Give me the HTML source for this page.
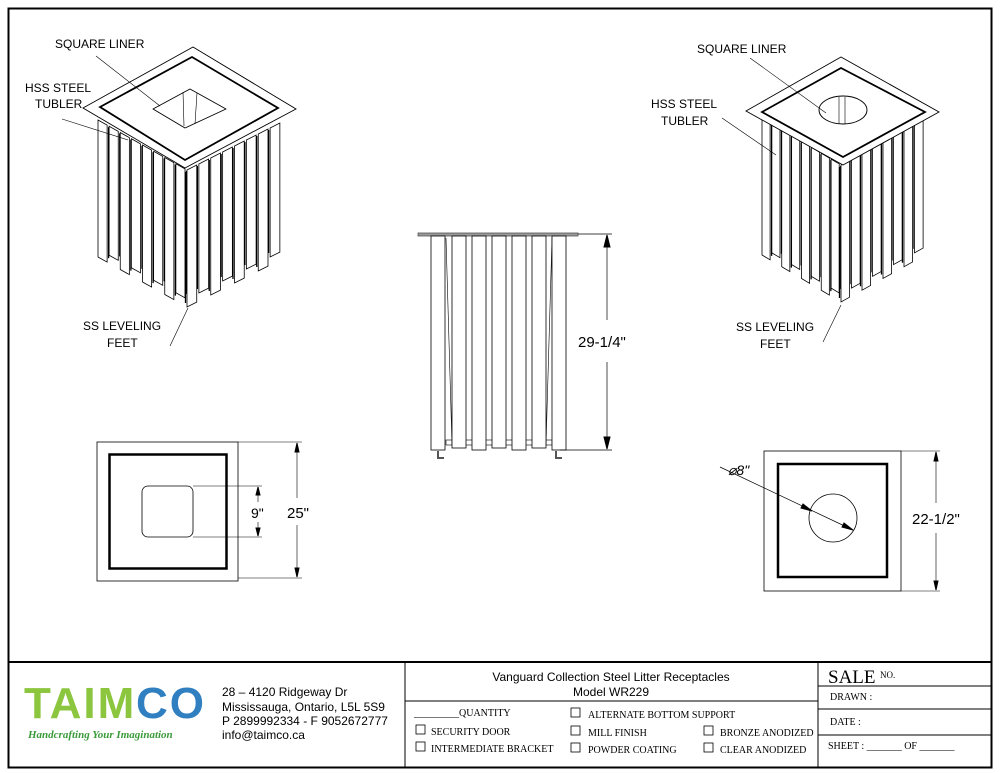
<!DOCTYPE html>
<html><head><meta charset="utf-8"><style>
body{margin:0;background:#fff}
svg{display:block}
text{font-family:"Liberation Sans",sans-serif;fill:#000}
.s{font-family:"Liberation Serif",serif;font-size:10px}
</style></head><body>
<svg id="g" width="1000" height="773" viewBox="0 0 1000 773" xmlns="http://www.w3.org/2000/svg" stroke="#000" fill="none">
<rect x="8.5" y="8.5" width="983" height="759" stroke-width="2"/>
<line x1="8" y1="662" x2="992" y2="662" stroke-width="2"/>
<line x1="405" y1="662" x2="405" y2="768" stroke-width="1"/>
<line x1="818" y1="662" x2="818" y2="768" stroke-width="1"/>
<line x1="405" y1="701" x2="818" y2="701"/>
<line x1="818" y1="686" x2="992" y2="686"/>
<line x1="818" y1="709" x2="992" y2="709"/>
<line x1="818" y1="735" x2="992" y2="735"/>
<g id="iso"></g>
<rect x="418" y="233" width="160" height="3" fill="#999" stroke="#555" stroke-width="0.8"/>
<g id="front"></g>
<line x1="578" y1="234" x2="612" y2="234" stroke-width="0.7"/>
<line x1="560" y1="450" x2="612" y2="450" stroke-width="0.7"/>
<line x1="607" y1="236" x2="607" y2="320" stroke-width="0.7"/>
<line x1="607" y1="362" x2="607" y2="448" stroke-width="0.7"/>
<path d="M607 235 L604 247 L610 247Z M607 449 L604 437 L610 437Z" fill="#000"/>
<text x="578" y="347" font-size="15" stroke="none">29-1/4"</text>
<rect x="97" y="442" width="141" height="139" stroke-width="0.8"/>
<rect x="109.5" y="454.5" width="117" height="114" stroke-width="2.5"/>
<rect x="142" y="486" width="51" height="51" rx="6" stroke-width="0.8"/>
<line x1="193" y1="486" x2="262" y2="486" stroke-width="0.6"/>
<line x1="193" y1="537" x2="262" y2="537" stroke-width="0.6"/>
<line x1="258" y1="487" x2="258" y2="502" stroke-width="0.6"/><line x1="258" y1="522" x2="258" y2="536" stroke-width="0.6"/>
<path d="M258 487 L256 495 L260 495Z M258 536 L256 528 L260 528Z" fill="#000"/>
<text x="251" y="518" font-size="14" stroke="none">9"</text>
<line x1="238" y1="442" x2="302" y2="442" stroke-width="0.6"/>
<line x1="238" y1="578" x2="302" y2="578" stroke-width="0.6"/>
<line x1="297" y1="443" x2="297" y2="498" stroke-width="0.6"/><line x1="297" y1="525" x2="297" y2="577" stroke-width="0.6"/>
<path d="M297 443 L295 452 L299 452Z M297 577 L295 568 L299 568Z" fill="#000"/>
<text x="287" y="518" font-size="15" stroke="none">25"</text>
<rect x="764" y="451" width="137" height="140" stroke-width="0.8"/>
<rect x="778" y="464" width="109" height="113" stroke-width="2.5"/>
<circle cx="833" cy="518" r="24" stroke-width="0.8"/>
<line x1="720" y1="467" x2="853" y2="530" stroke-width="0.7"/>
<path d="M812 511 L803 504 L801 508Z M853 530 L844 523 L842 527Z" fill="#000"/>
<text x="728" y="475" font-size="14" font-style="italic" stroke="none">⌀8"</text>
<line x1="901" y1="451" x2="940" y2="451" stroke-width="0.6"/>
<line x1="901" y1="591" x2="940" y2="591" stroke-width="0.6"/>
<line x1="936" y1="452" x2="936" y2="503" stroke-width="0.6"/><line x1="936" y1="533" x2="936" y2="590" stroke-width="0.6"/>
<path d="M936 452 L934 461 L938 461Z M936 590 L934 581 L938 581Z" fill="#000"/>
<text x="912" y="524" font-size="15" stroke="none">22-1/2"</text>
<g font-size="12" stroke="none">
<text x="55" y="48">SQUARE LINER</text>
<text x="25" y="92">HSS STEEL</text>
<text x="35" y="108">TUBLER</text>
<text x="83" y="330">SS LEVELING</text>
<text x="107" y="347">FEET</text>
<text x="697" y="53">SQUARE LINER</text>
<text x="651" y="108">HSS STEEL</text>
<text x="661" y="125">TUBLER</text>
<text x="736" y="331">SS LEVELING</text>
<text x="760" y="348">FEET</text>
</g>
<g stroke-width="0.6">
<line x1="96" y1="56" x2="160" y2="106"/>
<line x1="62" y1="119" x2="128" y2="140"/>
<line x1="170" y1="346" x2="188" y2="308"/>
<line x1="750" y1="58" x2="826" y2="113"/>
<line x1="722" y1="118" x2="776" y2="155"/>
<line x1="823" y1="342" x2="841" y2="305"/>
</g>
<text x="24" y="718" font-size="44" font-weight="bold" stroke="none" style="fill:#8cc63f;letter-spacing:2px">TAIM</text>
<text x="136" y="718" font-size="44" font-weight="bold" stroke="none" style="fill:#2f7fc1;letter-spacing:2px">CO</text>
<text x="28" y="738" font-size="11" font-style="italic" font-weight="bold" stroke="none" style="fill:#3a9a3a;font-family:'Liberation Serif',serif">Handcrafting Your Imagination</text>
<g font-size="12" stroke="none">
<text x="222" y="696">28 – 4120 Ridgeway Dr</text>
<text x="222" y="711">Mississauga, Ontario, L5L 5S9</text>
<text x="222" y="725">P 2899992334 - F 9052672777</text>
<text x="222" y="739">info@taimco.ca</text>
<text x="611" y="681" text-anchor="middle">Vanguard Collection Steel Litter Receptacles</text>
<text x="611" y="696" text-anchor="middle">Model WR229</text>
</g>
<g class="s" stroke="none">
<text x="414" y="716" class="s">_________QUANTITY</text>
<text x="431" y="735" class="s">SECURITY DOOR</text>
<text x="431" y="752" class="s">INTERMEDIATE BRACKET</text>
<text x="588" y="718" class="s">ALTERNATE BOTTOM SUPPORT</text>
<text x="588" y="736" class="s">MILL FINISH</text>
<text x="588" y="753" class="s">POWDER COATING</text>
<text x="720" y="736" class="s">BRONZE ANODIZED</text>
<text x="720" y="753" class="s">CLEAR ANODIZED</text>
<text x="828" y="683" style="font-family:'Liberation Serif',serif;font-size:19px">SALE</text>
<text x="880" y="678" class="s" style="font-size:9px">NO.</text>
<text x="830" y="700" class="s">DRAWN :</text>
<text x="830" y="725" class="s">DATE :</text>
<text x="828" y="749" class="s">SHEET :   _______  OF  _______</text>
</g>
<g stroke-width="0.8">
<rect x="416" y="725" width="9" height="9"/><rect x="416" y="742" width="9" height="9"/>
<rect x="571" y="708" width="9" height="9"/><rect x="571" y="726" width="9" height="9"/><rect x="571" y="743" width="9" height="9"/>
<rect x="704" y="726" width="9" height="9"/><rect x="704" y="743" width="9" height="9"/>
</g>
</svg>
<script>
const NS="http://www.w3.org/2000/svg";
function el(p,t,a){const e=document.createElementNS(NS,t);for(const k in a)e.setAttribute(k,a[k]);p.appendChild(e);return e;}
const iso=document.getElementById('iso');
function box(o){
 const {L,F,R,h,lid,inner,hole}=o;
 [[L,F],[F,R]].forEach(([a,b],fi)=>{
  const n=8;
  const idx=[...Array(n).keys()];
  if(fi==1) idx.reverse();
  idx.forEach(i=>{
   const t0=i/n,t1=(i+0.82)/n;
   const p0=[a[0]+(b[0]-a[0])*t0,a[1]+(b[1]-a[1])*t0];
   const p1=[a[0]+(b[0]-a[0])*t1,a[1]+(b[1]-a[1])*t1];
   const hh=h-(i%2?8:0);
   el(iso,'polygon',{points:`${p0[0]},${p0[1]} ${p1[0]},${p1[1]} ${p1[0]},${p1[1]+hh} ${p0[0]},${p0[1]+hh}`,fill:'#fff','stroke-width':0.8});
   const x=fi==0?p1[0]+1.5:p0[0]-1.5, y=fi==0?p1[1]:p0[1];
   el(iso,'line',{x1:x,y1:y+2,x2:x,y2:y+hh-4,'stroke-width':1.3});
  });
 });
 el(iso,'polygon',{points:lid.map(p=>p.join(',')).join(' '),fill:'#fff','stroke-width':0.9});
 el(iso,'polygon',{points:inner.map(p=>p.join(',')).join(' '),fill:'#fff','stroke-width':1.8});
 hole();
}
box({L:[98,120],F:[187,170],R:[282,122],h:137,
 lid:[[83,108],[193,47],[296,109],[185,168]],
 inner:[[100,107],[192,57],[278,108],[185,160]],
 hole:()=>{el(iso,'polygon',{points:'153,109 190,89 226,109 185,128',fill:'#fff','stroke-width':0.9,'stroke-linejoin':'round'});
 el(iso,'line',{x1:183,y1:92,x2:184,y2:126,'stroke-width':0.6});el(iso,'line',{x1:197,y1:93,x2:195,y2:124,'stroke-width':0.6});}});
box({L:[762,118],F:[841,165],R:[925,118],h:137,
 lid:[[746,111],[841,57],[939,112],[843,165]],
 inner:[[762,112],[841,68],[925,112],[843,157]],
 hole:()=>{el(iso,'ellipse',{cx:843,cy:110,rx:24,ry:14,fill:'#fff','stroke-width':0.9});
 el(iso,'line',{x1:839,y1:97,x2:839,y2:124,'stroke-width':0.6});el(iso,'line',{x1:845,y1:97,x2:845,y2:124,'stroke-width':0.6});}});
const fr=document.getElementById('front');
el(fr,'line',{x1:446,y1:238,x2:452,y2:445,'stroke-width':0.6});
el(fr,'line',{x1:552,y1:238,x2:546,y2:445,'stroke-width':0.6});
el(fr,'rect',{x:446,y:440,width:106,height:5,'stroke-width':0.6});
[431,452,472,492,512,532,552].forEach((x,i)=>{
 el(fr,'rect',{x:x,y:236,width:14,height:(i%2?212:214),fill:'#fff','stroke-width':0.8});
});
el(fr,'path',{d:'M438 451v7h6M556 451v7h6',stroke:'#555','stroke-width':2});
</script>
</body></html>
